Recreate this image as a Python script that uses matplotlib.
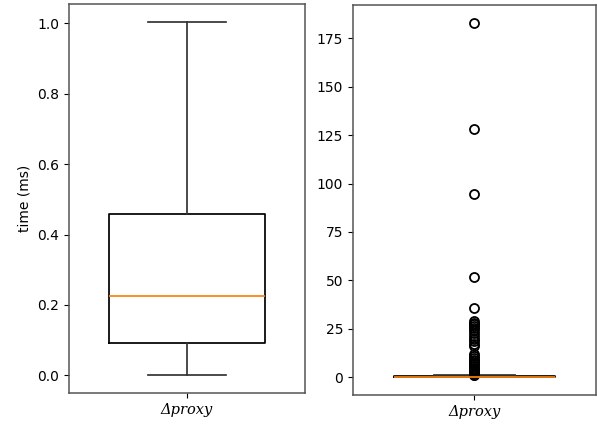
import matplotlib
matplotlib.use("Agg")
from matplotlib import pyplot as plt

# box statistics (time in ms)
label = "Δproxy"
q1 = 0.093
median = 0.226
q3 = 0.458
whisker_low = 0.0
whisker_high = 1.005
outliers = [183, 128, 94.5, 52, 35.5,
            29, 28.2, 27.5, 26.5, 25.5, 24.5, 23, 21.5, 20, 18.5, 17, 16,
            12, 11, 10, 9, 8.2, 7.4, 6.6, 5.8, 5, 4.3, 3.6, 3, 2.5, 2, 1.6, 1.3, 1.1]


def stats(with_fliers):
    return [{
        "label": label,
        "q1": q1,
        "med": median,
        "q3": q3,
        "whislo": whisker_low,
        "whishi": whisker_high,
        "fliers": outliers if with_fliers else [],
    }]


lw = 1.25
props = dict(
    widths=0.66,
    boxprops=dict(linewidth=lw),
    whiskerprops=dict(linewidth=lw, color="#333333"),
    capprops=dict(linewidth=lw, color="#333333"),
    medianprops=dict(linewidth=lw, color="C1"),
    flierprops=dict(markeredgewidth=1.3, markersize=6.5),
)

fig = plt.figure(figsize=(5.97, 4.25), dpi=100)
ax1 = fig.add_axes([0.1156, 0.0753, 0.3953, 0.9153])
ax2 = fig.add_axes([0.5913, 0.0706, 0.4070, 0.9176])

ax1.bxp(stats(False), showfliers=False, **props)
ax2.bxp(stats(True), showfliers=True, **props)

for ax in (ax1, ax2):
    ax.set_xlim(0.5, 1.5)
    ax.set_xticks([1])
    ax.set_xticklabels([label], fontfamily="DejaVu Serif", fontstyle="italic", fontsize=10.5)
    for s in ax.spines.values():
        s.set_color("#555555")
        s.set_linewidth(1.1)

ax1.set_ylabel("time (ms)")
ax1.set_yticks([0.0, 0.2, 0.4, 0.6, 0.8, 1.0])
ax2.set_yticks([0, 25, 50, 75, 100, 125, 150, 175])

fig.savefig("out.png", dpi=100)
